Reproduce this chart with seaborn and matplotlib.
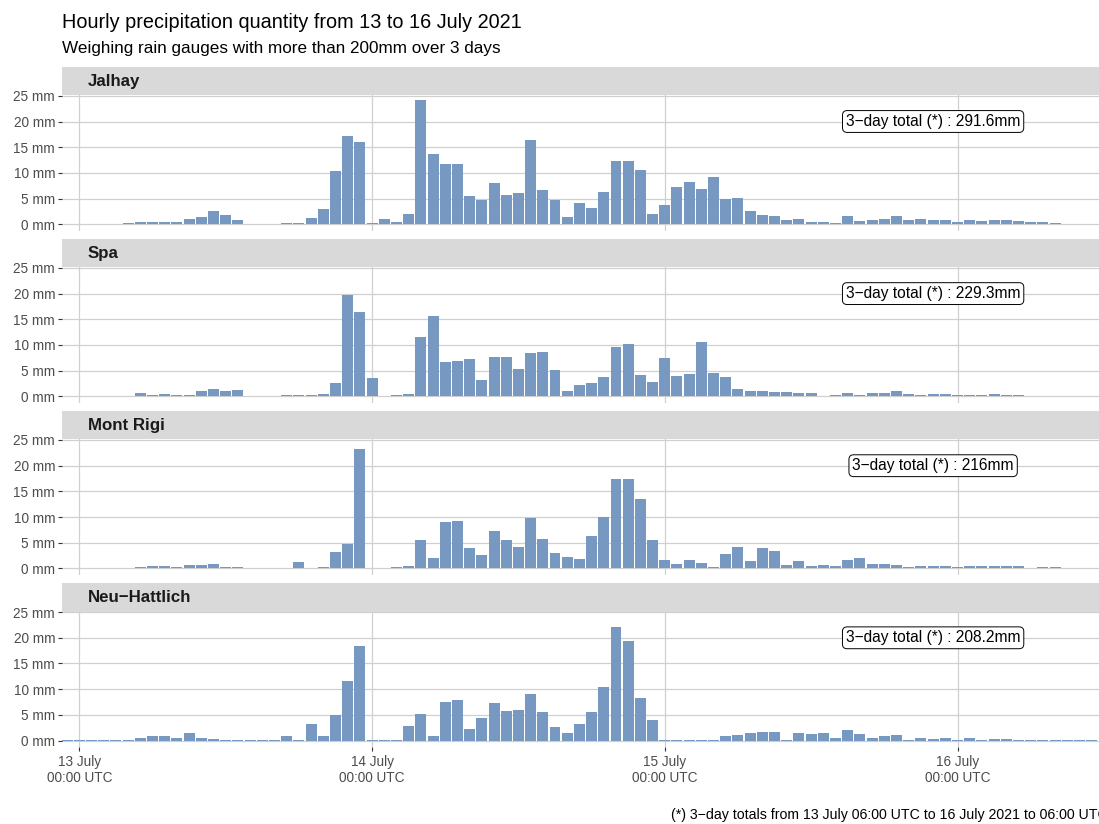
import matplotlib
matplotlib.use("Agg")
import matplotlib.pyplot as plt
from matplotlib.patches import Rectangle
import pandas as pd
import seaborn as sns

# Hourly totals (mm), hours counted from 13 July 2021 00:00 UTC
hours = list(range(-1, 84))

jalhay = [0.15, 0.15, 0.15, 0.15, 0.15, 0.25, 0.45, 0.45, 0.45, 0.45,
          1.0, 1.4, 2.6, 1.8, 0.85, 0.15, 0.15, 0.15, 0.25, 0.25,
          1.2, 3.0, 10.4, 17.2, 16.0, 0.25, 1.0, 0.45, 2.0, 24.2,
          13.7, 11.7, 11.7, 5.5, 4.7, 8.0, 5.7, 6.1, 16.4, 6.7,
          4.7, 1.4, 4.1, 3.2, 6.3, 12.3, 12.3, 10.6, 2.0, 3.8,
          7.25, 8.2, 6.9, 9.2, 4.9, 5.1, 2.6, 1.8, 1.6, 0.85,
          1.0, 0.45, 0.45, 0.25, 1.6, 0.65, 0.85, 1.0, 1.6, 0.85,
          1.0, 0.85, 0.85, 0.45, 0.85, 0.65, 0.85, 0.85, 0.65, 0.45,
          0.45, 0.25, 0.15, 0.15, 0.15]

spa = [0.15, 0.15, 0.15, 0.15, 0.15, 0.15, 0.65, 0.25, 0.45, 0.25,
       0.25, 1.0, 1.4, 1.0, 1.2, 0.15, 0.15, 0.15, 0.25, 0.25,
       0.25, 0.45, 2.6, 19.7, 16.4, 3.6, 0.15, 0.25, 0.45, 11.5,
       15.6, 6.7, 6.9, 7.25, 3.2, 7.6, 7.6, 5.3, 8.4, 8.6,
       5.1, 1.0, 2.2, 2.6, 3.8, 9.6, 10.2, 4.1, 2.8, 7.4,
       3.95, 4.3, 10.6, 4.5, 3.8, 1.4, 1.0, 1.0, 0.85, 0.85,
       0.65, 0.65, 0.15, 0.25, 0.65, 0.25, 0.65, 0.65, 1.0, 0.45,
       0.25, 0.45, 0.45, 0.25, 0.25, 0.25, 0.45, 0.25, 0.25, 0.15,
       0.15, 0.15, 0.15, 0.15, 0.15]

mont_rigi = [0.15, 0.15, 0.15, 0.15, 0.15, 0.15, 0.25, 0.45, 0.45, 0.25,
             0.65, 0.65, 0.85, 0.25, 0.25, 0.15, 0.15, 0.15, 0.15, 1.2,
             0.15, 0.25, 3.2, 4.7, 23.2, 0.15, 0.15, 0.25, 0.45, 5.5,
             2.0, 9.0, 9.2, 3.95, 2.6, 7.25, 5.5, 4.1, 9.8, 5.7,
             3.0, 2.2, 1.8, 6.3, 10.0, 17.4, 17.4, 13.5, 5.5, 1.6,
             0.85, 1.6, 1.0, 0.25, 2.8, 4.1, 1.4, 3.95, 3.4, 0.65,
             1.4, 0.45, 0.65, 0.45, 1.6, 2.0, 0.85, 0.85, 0.65, 0.25,
             0.45, 0.45, 0.45, 0.25, 0.45, 0.45, 0.45, 0.45, 0.45, 0.15,
             0.25, 0.25, 0.15, 0.15, 0.15]

neu_hattlich = [0.15, 0.15, 0.15, 0.15, 0.15, 0.2, 0.6, 0.8, 0.8, 0.6,
                1.4, 0.6, 0.4, 0.2, 0.2, 0.15, 0.15, 0.15, 0.8, 0.2,
                3.3, 0.8, 5.05, 11.5, 18.5, 0.15, 0.2, 0.15, 2.9, 5.25,
                0.8, 7.6, 7.95, 2.3, 4.3, 7.4, 5.8, 6.0, 9.1, 5.6,
                2.7, 1.55, 3.3, 5.6, 10.5, 22.15, 19.4, 8.35, 4.1, 0.15,
                0.15, 0.15, 0.15, 0.15, 0.8, 1.0, 1.4, 1.75, 1.75, 0.15,
                1.4, 1.2, 1.55, 0.6, 2.15, 1.2, 0.6, 0.8, 1.0, 0.2,
                0.6, 0.4, 0.6, 0.2, 0.6, 0.2, 0.4, 0.4, 0.2, 0.2,
                0.15, 0.2, 0.15, 0.15, 0.15]

stations = ["Jalhay", "Spa", "Mont Rigi", "Neu\u2212Hattlich"]
series = [jalhay, spa, mont_rigi, neu_hattlich]
totals = ["291.6mm", "229.3mm", "216mm", "208.2mm"]

day_ticks = [0, 24, 48, 72]
day_labels = ["13 July\n00:00 UTC", "14 July\n00:00 UTC",
              "15 July\n00:00 UTC", "16 July\n00:00 UTC"]
y_ticks = [0, 5, 10, 15, 20, 25]
y_labels = ["0 mm", "5 mm", "10 mm", "15 mm", "20 mm", "25 mm"]

title = "Hourly precipitation quantity from 13 to 16 July 2021"
subtitle = "Weighing rain gauges with more than 200mm over 3 days"
caption = "(*) 3\u2212day totals from 13 July 06:00 UTC to 16 July 2021 to 06:00 UTC"

df = pd.concat(
    [pd.DataFrame({"station": s, "hour": hours, "mm": v})
     for s, v in zip(stations, series)],
    ignore_index=True,
)

sns.set_theme(style="white")
plt.rcParams["font.family"] = ["Liberation Sans", "DejaVu Sans"]

W, H = 1099, 824
fig = plt.figure(figsize=(W / 100, H / 100), dpi=100)


def fx(px):
    return px / W


def fy(py):
    return 1 - py / H


BAR = "#7799C1"
GRID = "#D0D0D0"
PX_PER_MM = 5.14
Y_LO, Y_HI = -1.25, 25.1
LEFT, RIGHT = 62, 1099
STRIP_H = 28.3

for k, name in enumerate(stations):
    zero = 224.3 + 172.1 * k
    top = zero - Y_HI * PX_PER_MM
    bottom = zero - Y_LO * PX_PER_MM
    ax = fig.add_axes([fx(LEFT), fy(bottom), fx(RIGHT) - fx(LEFT),
                       (bottom - top) / H])
    sub = df[df["station"] == name]
    sns.barplot(data=sub, x="hour", y="mm", native_scale=True, width=0.9,
                color=BAR, saturation=1, errorbar=None, linewidth=0, ax=ax)
    ax.set_xlim(-1.42, 83.6)
    ax.set_ylim(Y_LO, Y_HI)
    ax.set_axisbelow(True)
    ax.grid(True, color=GRID, linewidth=0.9)
    for sp in ax.spines.values():
        sp.set_visible(False)
    ax.set_yticks(y_ticks)
    ax.set_yticklabels(y_labels)
    ax.set_xticks(day_ticks)
    ax.tick_params(axis="y", left=True, length=3, width=0.8, color="#333333",
                   labelsize=9.8, labelcolor="#4D4D4D", pad=2)
    if k == len(stations) - 1:
        ax.set_xticklabels(day_labels, linespacing=1.12)
        ax.tick_params(axis="x", bottom=True, length=3, width=0.8,
                       color="#333333", labelsize=9.8, labelcolor="#4D4D4D",
                       pad=3)
    else:
        ax.set_xticklabels([])
        ax.tick_params(axis="x", bottom=False, length=0)
    ax.set_xlabel("")
    ax.set_ylabel("")

    ax.text(70, 20, "3\u2212day total (*) : " + totals[k], ha="center",
            va="center", fontsize=11.2, color="black",
            bbox=dict(boxstyle="round,pad=0.22,rounding_size=0.3",
                      fc="white", ec="black", lw=0.7))

    # facet strip
    fig.add_artist(Rectangle((fx(LEFT), fy(top)), fx(RIGHT) - fx(LEFT),
                             STRIP_H / H, transform=fig.transFigure,
                             facecolor="#D9D9D9", edgecolor="none"))
    fig.text(fx(88), fy(top - STRIP_H / 2 + 0.5), name, ha="left",
             va="center", fontsize=12.2, fontweight="bold", color="#1A1A1A")

fig.text(fx(62), fy(22), title, ha="left", va="center", fontsize=14.3,
         color="black")
fig.text(fx(62), fy(48), subtitle, ha="left", va="center", fontsize=12.3,
         color="black")
fig.text(fx(1108), fy(815), caption, ha="right", va="center", fontsize=10.2,
         color="black")

fig.savefig("out.png", dpi=100)
